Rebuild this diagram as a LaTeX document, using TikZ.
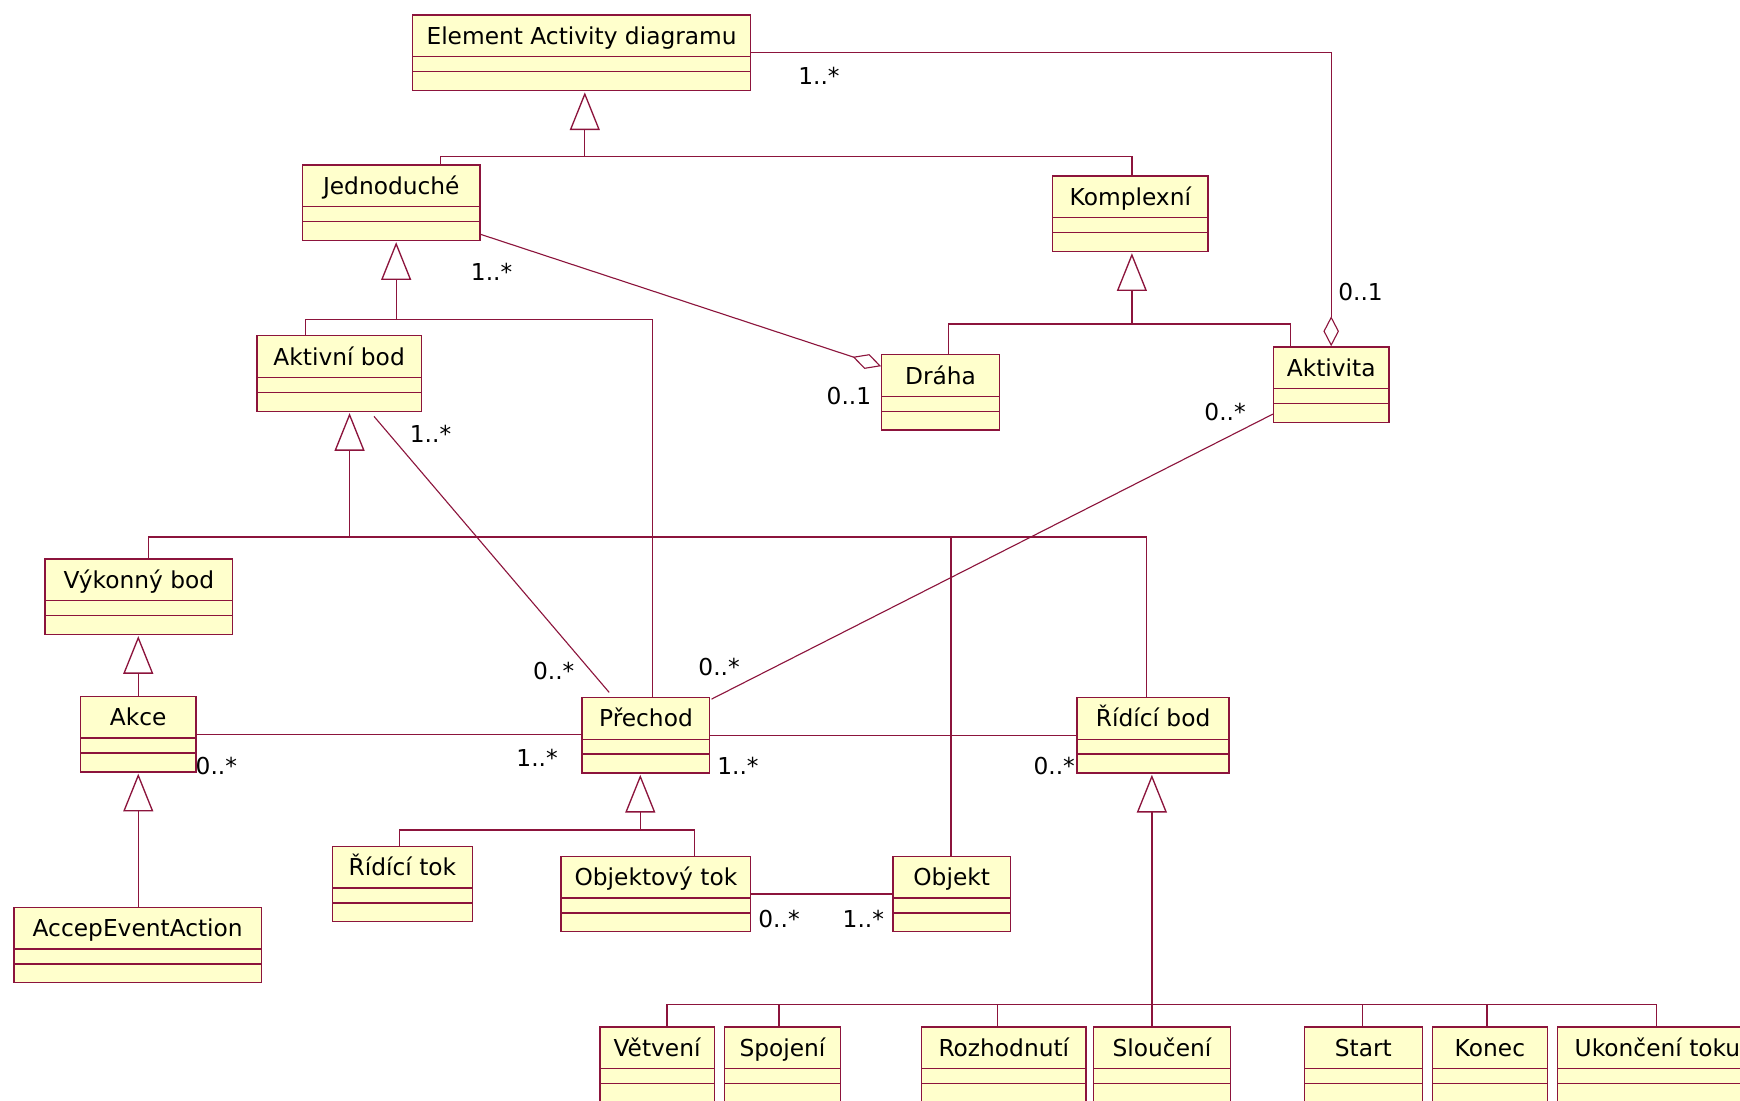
\documentclass[tikz,border=0pt]{standalone}
\usepackage{fontspec}
\setmainfont{DejaVu Sans}
\usetikzlibrary{arrows.meta,calc}
\definecolor{umlline}{RGB}{140,20,60}
\definecolor{umlfill}{RGB}{255,255,204}
\newcommand\umlfont{\fontsize{21}{25}\selectfont}

\begin{document}
\begin{tikzpicture}[x=1pt,y=-1pt,
  umlbox/.style={draw=umlline, fill=umlfill, line width=1.2pt, rectangle,
    anchor=north west, inner sep=0pt, minimum height=68pt,
    text height=26.5pt, text depth=41.5pt, font=\umlfont,
    path picture={\draw[umlline,line width=1.2pt]
      ([yshift=-37.5pt]path picture bounding box.north west) -- ([yshift=-37.5pt]path picture bounding box.north east)
      ([yshift=-51pt]path picture bounding box.north west) -- ([yshift=-51pt]path picture bounding box.north east);}},
  tree/.style={draw=umlline, line width=1.2pt},
  gen/.style={tree, -{Triangle[open,length=34pt,width=27pt]}, shorten >=1pt},
  assoc/.style={draw=umlline, line width=1pt},
  agg/.style={assoc, -{Diamond[open,length=27pt,width=14pt]}},
  mult/.style={font=\umlfont, inner sep=0pt}]

\useasboundingbox (0,0) rectangle (1568,992);
\clip (0,0) rectangle (1568,992);
\fill[white] (0,0) rectangle (1568,992);

% classes
\node[umlbox, minimum width=305pt] (elem)  at (371,13)  {Element Activity diagramu};
\node[umlbox, minimum width=160pt] (jedn)  at (272,148) {Jednoduché};
\node[umlbox, minimum width=140pt] (komp)  at (948,158) {Komplexní};
\node[umlbox, minimum width=148pt] (aktb)  at (231,302) {Aktivní bod};
\node[umlbox, minimum width=106pt] (draha) at (794,319) {Dráha};
\node[umlbox, minimum width=104pt] (aktv)  at (1147,312) {Aktivita};
\node[umlbox, minimum width=169pt] (vyk)   at (40,503)  {Výkonný bod};
\node[umlbox, minimum width=104pt] (akce)  at (72,627)  {Akce};
\node[umlbox, minimum width=223pt] (accep) at (12,817)  {AccepEventAction};
\node[umlbox, minimum width=115pt] (prech) at (524,628) {Přechod};
\node[umlbox, minimum width=137pt] (ridb)  at (970,628) {Řídící bod};
\node[umlbox, minimum width=126pt] (ridt)  at (299,762) {Řídící tok};
\node[umlbox, minimum width=171pt] (objt)  at (505,771) {Objektový tok};
\node[umlbox, minimum width=106pt] (obj)   at (804,771) {Objekt};
\node[umlbox, minimum width=103pt] (vetv)  at (540,925) {Větvení};
\node[umlbox, minimum width=105pt] (spoj)  at (652,925) {Spojení};
\node[umlbox, minimum width=148pt] (rozh)  at (830,925) {Rozhodnutí};
\node[umlbox, minimum width=123pt] (slouc) at (985,925) {Sloučení};
\node[umlbox, minimum width=106pt] (start) at (1175,925) {Start};
\node[umlbox, minimum width=104pt] (konec) at (1290,925) {Konec};
\node[umlbox, minimum width=180pt] (ukon)  at (1403,925) {Ukončení toku};

% generalization trees
\coordinate (b1l) at (397,141); \coordinate (b1m) at (527,141); \coordinate (b1r) at (1020,141);
\draw[gen] (b1m) -- (b1m |- elem.south);
\draw[tree] (jedn.north -| b1l) -- (b1l) -- (b1r) -- (komp.north -| b1r);

\coordinate (b2l) at (275,288); \coordinate (b2m) at (357,288); \coordinate (b2r) at (588,288);
\draw[gen] (b2m) -- (b2m |- jedn.south);
\draw[tree] (aktb.north -| b2l) -- (b2l) -- (b2r) -- (prech.north -| b2r);

\coordinate (b3l) at (855,292); \coordinate (b3m) at (1020,292); \coordinate (b3r) at (1163,292);
\draw[gen] (b3m) -- (b3m |- komp.south);
\draw[tree] (draha.north -| b3l) -- (b3l) -- (b3r) -- (aktv.north -| b3r);

\coordinate (b4l) at (134,484); \coordinate (b4m) at (315,484);
\coordinate (b4o) at (857,484); \coordinate (b4r) at (1033,484);
\draw[gen] (b4m) -- (b4m |- aktb.south);
\draw[tree] (vyk.north -| b4l) -- (b4l) -- (b4r) -- (ridb.north -| b4r);
\draw[tree] (b4o) -- (obj.north -| b4o);

\draw[gen] (akce.north) -- (vyk.south -| akce.north);
\draw[gen] (accep.north -| akce.south) -- (akce.south);

\coordinate (b7l) at (360,748); \coordinate (b7m) at (577,748); \coordinate (b7r) at (626,748);
\draw[gen] (b7m) -- (b7m |- prech.south);
\draw[tree] (ridt.north -| b7l) -- (b7l) -- (b7r) -- (objt.north -| b7r);

\coordinate (b8m) at (1038,905);
\draw[gen] (b8m) -- (b8m |- ridb.south);
\foreach \n/\x in {vetv/601, spoj/702, rozh/899, slouc/1038, start/1228, konec/1340, ukon/1493}{
  \coordinate (k\n) at (\x,905);
  \draw[tree] (k\n) -- (\n.north -| k\n);
}
\draw[tree] (kvetv) -- (kukon);

% associations
\draw[agg] (elem.east) -| (aktv.north);
\node[mult] (m1) at (738,68)  {1..*};
\node[mult] (m2) at (1226,263) {0..1};

\draw[agg] ($(jedn.south east)+(0,-6)$) -- ($(draha.north west)+(0,11)$);
\node[mult] (m3) at (443,245) {1..*};
\node[mult] (m4) at (765,357) {0..1};

\draw[assoc] ($(aktv.south west)+(0,-8)$) -- ($(prech.north east)+(1,2)$);
\node[mult] (m5) at (1104,371) {0..*};
\node[mult] (m6) at (648,601) {0..*};

\draw[assoc] ($(aktb.south west)+(106,4)$) -- ($(prech.north west)+(25,-4)$);
\node[mult] (m7) at (388,391) {1..*};
\node[mult] (m8) at (499,605) {0..*};

\draw[assoc] (akce.east) -- (akce.east -| prech.west);
\node[mult] (m9) at (195,690) {0..*};
\node[mult] (m10) at (484,683) {1..*};

\draw[assoc] (prech.east) -- (prech.east -| ridb.west);
\node[mult] (m11) at (665,690) {1..*};
\node[mult] (m12) at (950,690) {0..*};

\draw[assoc] (objt.east) -- (objt.east -| obj.west);
\node[mult] (m13) at (702,828) {0..*};
\node[mult] (m14) at (778,828) {1..*};
\end{tikzpicture}
\end{document}
